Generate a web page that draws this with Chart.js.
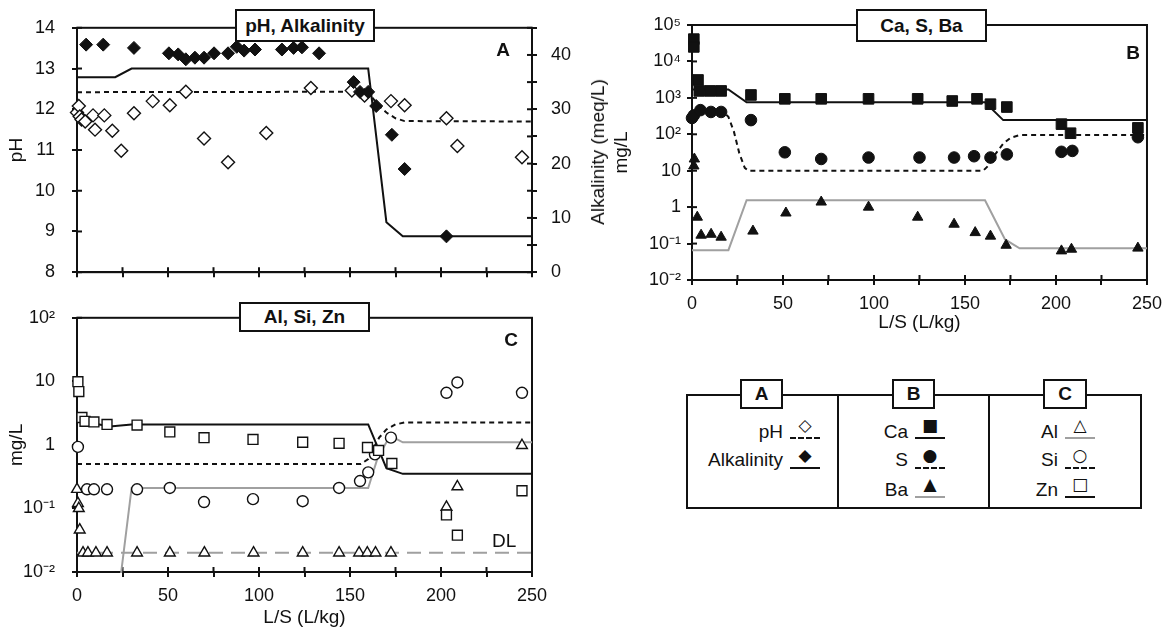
<!DOCTYPE html>
<html>
<head>
<meta charset="utf-8">
<script src="https://cdn.jsdelivr.net/npm/chart.js@4.4.1/dist/chart.umd.min.js"></script>
<style>
body { margin: 0; background: #fff; }
#page { position: relative; width: 1170px; height: 630px; overflow: hidden; font-family: "Liberation Sans", Arial, sans-serif; color: #111; }
canvas { position: absolute; }
.tbox { position: absolute; box-sizing: border-box; border: 2px solid #111; background: #fff; font-weight: bold; font-size: 19px; text-align: center; }
.lbl { position: absolute; font-size: 19px; line-height: 22px; white-space: nowrap; }
.letter { position: absolute; font-size: 19px; font-weight: bold; transform: translate(-50%, -50%); }
.txt { position: absolute; font-size: 19px; line-height: 22px; text-align: right; white-space: nowrap; }
.sym { position: absolute; width: 30px; height: 20px; }
.sym .mk { position: absolute; left: 0; right: 0; top: -2px; text-align: center; font: 17px/16px "DejaVu Sans", sans-serif; }
.sym .ln { position: absolute; left: 0; right: 0; bottom: 0; border-bottom: 2px solid #111; }
.sym .ln.dash { border-bottom-style: dashed; }
.sym .ln.grey { border-color: #a0a0a0; }
.rule { position: absolute; background: #111; }
</style>
</head>
<body>
<div id="page">
  <canvas id="chartA" width="620" height="300" style="left:0;top:0;width:620px;height:300px"></canvas>
  <canvas id="chartC" width="620" height="340" style="left:0;top:290px;width:620px;height:340px"></canvas>
  <canvas id="chartB" width="565" height="335" style="left:605px;top:0;width:565px;height:335px"></canvas>

  <div class="lbl" style="left:598px;top:152px;transform:translate(-50%,-50%) rotate(-90deg)">Alkalinity (meq/L)</div>

  <div class="tbox" style="left:235px;top:9px;width:140px;height:33px;line-height:29px">pH, Alkalinity</div>
  <div class="tbox" style="left:856px;top:9px;width:131px;height:33px;line-height:29px">Ca, S, Ba</div>
  <div class="tbox" style="left:239px;top:302px;width:131px;height:30px;line-height:26px">Al, Si, Zn</div>

  <div class="letter" style="left:503px;top:50px">A</div>
  <div class="letter" style="left:1133px;top:53px">B</div>
  <div class="letter" style="left:511px;top:340px">C</div>
  <div class="lbl" style="left:492px;top:530px">DL</div>

  <!-- legend table -->
  <div style="position:absolute;left:686px;top:394px;width:456px;height:115px;box-sizing:border-box;border:2px solid #111"></div>
  <div class="rule" style="left:837px;top:394px;width:2px;height:115px"></div>
  <div class="rule" style="left:988px;top:394px;width:2px;height:115px"></div>
  <div class="tbox" style="left:740px;top:379px;width:43px;height:30px;line-height:26px">A</div>
  <div class="tbox" style="left:892px;top:379px;width:43px;height:30px;line-height:26px">B</div>
  <div class="tbox" style="left:1043px;top:379px;width:44px;height:30px;line-height:26px">C</div>

  <div class="txt" style="left:690px;width:93px;top:421px">pH</div>
  <div class="sym" style="left:790px;top:419px"><span class="mk">◇</span><div class="ln dash"></div></div>
  <div class="txt" style="left:690px;width:93px;top:449px">Alkalinity</div>
  <div class="sym" style="left:790px;top:449px"><span class="mk">◆</span><div class="ln"></div></div>

  <div class="txt" style="left:842px;width:66px;top:421px">Ca</div>
  <div class="sym" style="left:915px;top:419px"><span class="mk">■</span><div class="ln"></div></div>
  <div class="txt" style="left:842px;width:66px;top:449px">S</div>
  <div class="sym" style="left:915px;top:449px"><span class="mk">●</span><div class="ln dash"></div></div>
  <div class="txt" style="left:842px;width:66px;top:479px">Ba</div>
  <div class="sym" style="left:915px;top:478px"><span class="mk">▲</span><div class="ln grey"></div></div>

  <div class="txt" style="left:993px;width:65px;top:421px">Al</div>
  <div class="sym" style="left:1065px;top:419px"><span class="mk">△</span><div class="ln grey"></div></div>
  <div class="txt" style="left:993px;width:65px;top:449px">Si</div>
  <div class="sym" style="left:1065px;top:449px"><span class="mk">○</span><div class="ln dash"></div></div>
  <div class="txt" style="left:993px;width:65px;top:479px">Zn</div>
  <div class="sym" style="left:1065px;top:478px"><span class="mk">□</span><div class="ln"></div></div>
</div>

<script>
// ---- Panel A: pH and alkalinity vs L/S ----
const phLS  = [0, 1, 1.5, 2.5, 4.5, 8.8, 9.9, 15, 19.4, 24.3, 31.3, 41.6, 51, 59.8, 69.8, 83, 104, 128.5, 151, 158, 172.5, 180, 203, 209, 244.5];
const phVal = [11.92, 12.08, 11.82, 11.75, 11.7, 11.85, 11.5, 11.85, 11.47, 10.98, 11.9, 12.2, 12.1, 12.43, 11.28, 10.7, 11.42, 12.52, 12.46, 12.34, 12.2, 12.1, 11.78, 11.1, 10.82];
const alkLS  = [5, 14.4, 31.3, 50.5, 55.6, 59.8, 64.8, 69.8, 75.3, 83, 87.8, 91.8, 97.8, 112.6, 119, 123.6, 133, 152, 155.5, 160, 164.4, 173, 180, 203];
const alkVal = [41.9, 41.9, 41.3, 40.3, 40.1, 39.2, 39.5, 39.5, 40.3, 40.3, 41.5, 40.8, 41.0, 41.0, 41.3, 41.4, 40.3, 35.0, 33.2, 33.2, 30.6, 25.3, 19.0, 6.6];
const phFitLS  = [0, 157, 162, 166, 170, 175, 180, 250];
const phFitVal = [12.42, 12.43, 12.3, 12.08, 11.92, 11.78, 11.71, 11.7];
const alkFitLS  = [0, 21, 30, 160, 170, 179, 250];
const alkFitVal = [35.9, 35.9, 37.5, 37.5, 9.2, 6.6, 6.6];

// ---- Panel B: Ca, S, Ba (mg/L) ----
const caLS  = [1, 1, 3.3, 4, 10, 16, 32.4, 51, 71, 97, 124, 143, 156.6, 164, 173, 203, 208, 245];
const caVal = [41000, 25000, 3100, 1550, 1550, 1550, 1200, 940, 940, 940, 940, 820, 940, 670, 560, 190, 107, 150];
const sLS  = [0, 1, 4.6, 10.4, 16, 32.4, 51, 71, 97, 125, 144, 155, 164, 173, 203, 209, 245];
const sVal = [280, 330, 460, 410, 410, 245, 32, 21, 23, 23, 23, 25, 23, 28, 33, 35, 83];
const baLS  = [1, 1.3, 2.9, 5, 10.5, 16, 33.5, 51.6, 71, 97, 124, 144, 155.6, 164, 172.6, 203, 208.5, 245];
const baVal = [13.5, 21, 0.53, 0.17, 0.18, 0.15, 0.22, 0.69, 1.38, 1.0, 0.53, 0.34, 0.2, 0.16, 0.09, 0.063, 0.07, 0.075];
const caFitLS  = [0, 20, 30, 161, 171, 250];
const caFitVal = [1700, 1700, 760, 760, 245, 245];
const sFitLS  = [0, 17, 20, 23, 26, 29, 31, 160, 163, 167, 171, 175, 180, 250];
const sFitVal = [430, 430, 300, 120, 30, 12, 10, 10, 14, 30, 55, 80, 95, 95];
const baFitLS  = [0, 20, 30, 161, 172, 180, 250];
const baFitVal = [0.066, 0.066, 1.55, 1.55, 0.13, 0.074, 0.074];

// ---- Panel C: Al, Si, Zn (mg/L) ----
const alLS  = [0, 0.5, 1, 1.5, 3.3, 6, 10.4, 16.5, 33, 51, 70, 97, 124, 144, 155, 159.5, 164, 172.5, 203, 209, 244.5];
const alVal = [0.2, 0.12, 0.1, 0.046, 0.02, 0.02, 0.02, 0.02, 0.02, 0.02, 0.02, 0.02, 0.02, 0.02, 0.02, 0.02, 0.02, 0.02, 0.105, 0.22, 0.98];
const siLS  = [0.5, 5.5, 9.3, 16.5, 33, 51, 69.8, 96.7, 124, 144, 155.5, 160, 163.7, 172.5, 203, 209, 244.5];
const siVal = [0.93, 0.2, 0.2, 0.2, 0.2, 0.21, 0.126, 0.14, 0.13, 0.21, 0.27, 0.37, 0.71, 1.3, 6.6, 9.6, 6.6];
const znLS  = [0.5, 1, 2.7, 4.4, 9.3, 16.5, 33, 51, 69.8, 96.7, 124, 144, 159.6, 165.7, 173, 203, 209, 244.5];
const znVal = [9.9, 6.9, 2.7, 2.35, 2.3, 2.1, 2.05, 1.6, 1.3, 1.22, 1.1, 1.06, 0.91, 0.82, 0.51, 0.079, 0.038, 0.19];
const alFitLS  = [0, 23, 30, 160, 165, 172, 179, 250];
const alFitVal = [0.005, 0.005, 0.21, 0.21, 0.6, 1.4, 1.1, 1.1];
const siFitLS  = [0, 156, 160, 163, 166, 170, 175, 180, 250];
const siFitVal = [0.5, 0.5, 0.6, 0.9, 1.3, 1.75, 2.1, 2.25, 2.25];
const znFitLS  = [0, 5, 18, 30, 160, 170, 179, 250];
const znFitVal = [2.4, 2.3, 1.95, 2.1, 2.1, 0.43, 0.35, 0.35];
const dlLS  = [0, 250];
const dlVal = [0.02, 0.02];

// ---- tick labels ----
const bTickVals   = [0.01, 0.1, 1, 10, 100, 1000, 10000, 100000];
const bTickLabels = ['10⁻²', '10⁻¹', '1', '10', '10²', '10³', '10⁴', '10⁵'];
const cTickVals   = [0.01, 0.1, 1, 10, 100];
const cTickLabels = ['10⁻²', '10⁻¹', '1', '10', '10²'];

const INK = '#111';
const GREY = '#a0a0a0';
Chart.defaults.font.family = '"Liberation Sans", Arial, sans-serif';
Chart.defaults.color = INK;

function xy(xs, ys) {
    return xs.map((x, i) => ({ x: x, y: ys[i] }));
}

function marks(xs, ys, style, filled, r, axis) {
    return {
        data: xy(xs, ys),
        yAxisID: axis || 'y',
        pointStyle: style,
        pointRadius: r,
        backgroundColor: filled ? INK : '#fff',
        borderColor: INK,
        borderWidth: filled ? 1 : 1.4,
        clip: false
    };
}

function curve(xs, ys, color, dash, axis) {
    return {
        data: xy(xs, ys),
        yAxisID: axis || 'y',
        showLine: true,
        pointRadius: 0,
        borderColor: color,
        borderWidth: 2,
        borderDash: dash || [],
        clip: 1
    };
}

// L/S axis shared by all panels
function lsAxis(h, labels, title) {
    return {
        type: 'linear', min: 0, max: 250,
        ticks: {
            stepSize: 25, autoSkip: false, maxRotation: 0, padding: 8, font: { size: 18 },
            callback: v => (labels && v % 50 === 0) ? String(v) : ''
        },
        grid: { drawOnChartArea: false, color: INK, lineWidth: 2, tickLength: 5 },
        border: { color: INK, width: 2 },
        title: { display: !!title, text: title || '', font: { size: 19 }, padding: { top: 0, bottom: 0.6 } },
        afterFit: s => { s.height = h; }
    };
}

function logAxis(vals, labels, w, pad) {
    return {
        type: 'logarithmic', min: vals[0], max: vals[vals.length - 1],
        afterBuildTicks: s => { s.ticks = vals.map(v => ({ value: v })); },
        ticks: { autoSkip: false, padding: pad, font: { size: 18 }, callback: (v, i) => labels[i] },
        grid: { drawOnChartArea: false, color: INK, lineWidth: 2, tickLength: 5 },
        border: { color: INK, width: 2 },
        title: { display: true, text: 'mg/L', font: { size: 19 }, padding: { top: 5.6, bottom: 0 } },
        afterFit: s => { s.width = w; }
    };
}

// frame round the plot area and tick marks pointing inward
const framePlugin = {
    id: 'frame',
    beforeDatasetsDraw(chart) {
        const ctx = chart.ctx;
        const a = chart.chartArea;
        ctx.save();
        ctx.strokeStyle = INK;
        ctx.lineWidth = 2;
        Object.values(chart.scales).forEach(s => {
            s.ticks.forEach((t, i) => {
                const p = s.getPixelForTick(i);
                ctx.beginPath();
                if (s.isHorizontal()) { ctx.moveTo(p, a.bottom); ctx.lineTo(p, a.bottom - 5); }
                else if (s.position === 'left') { ctx.moveTo(a.left, p); ctx.lineTo(a.left + 5, p); }
                else { ctx.moveTo(a.right, p); ctx.lineTo(a.right - 5, p); }
                ctx.stroke();
            });
        });
        ctx.strokeRect(a.left, a.top, a.right - a.left, a.bottom - a.top);
        ctx.restore();
    }
};

const baseOptions = {
    responsive: false,
    animation: false,
    plugins: { legend: { display: false }, tooltip: { enabled: false } }
};

function initPanelA() {
    new Chart(document.getElementById('chartA'), {
        type: 'scatter',
        data: {
            datasets: [
                marks(alkLS, alkVal, 'rectRot', true, 6.5, 'y2'),
                marks(phLS, phVal, 'rectRot', false, 6.5),
                curve(alkFitLS, alkFitVal, INK, [], 'y2'),
                curve(phFitLS, phFitVal, INK, [5, 4])
            ]
        },
        options: Object.assign({}, baseOptions, {
            layout: { padding: { top: 25, left: 0, right: 0, bottom: 0 } },
            scales: {
                x: lsAxis(20, false),
                y: {
                    min: 8, max: 14,
                    ticks: { stepSize: 1, padding: 17, font: { size: 18 } },
                    grid: { drawOnChartArea: false, color: INK, lineWidth: 2, tickLength: 5 },
                    border: { color: INK, width: 2 },
                    title: { display: true, text: 'pH', font: { size: 19 }, padding: { top: 5.6, bottom: 0 } },
                    afterFit: s => { s.width = 77; }
                },
                y2: {
                    position: 'right', min: 0, max: 45,
                    ticks: { stepSize: 5, autoSkip: false, padding: 14, font: { size: 18 },
                             callback: v => v % 10 === 0 ? String(v) : '' },
                    grid: { drawOnChartArea: false, color: INK, lineWidth: 2, tickLength: 5 },
                    border: { color: INK, width: 2 },
                    afterFit: s => { s.width = 88; }
                }
            }
        }),
        plugins: [framePlugin]
    });
}

function initPanelB() {
    new Chart(document.getElementById('chartB'), {
        type: 'scatter',
        data: {
            datasets: [
                marks(caLS, caVal, 'rect', true, 7.5),
                marks(sLS, sVal, 'circle', true, 5.8),
                marks(baLS, baVal, 'triangle', true, 6),
                curve(caFitLS, caFitVal, INK, []),
                curve(sFitLS, sFitVal, INK, [5, 4]),
                curve(baFitLS, baFitVal, GREY, [])
            ]
        },
        options: Object.assign({}, baseOptions, {
            layout: { padding: { top: 25, left: 0, right: 23, bottom: 0 } },
            scales: {
                x: lsAxis(55, true, 'L/S (L/kg)'),
                y: logAxis(bTickVals, bTickLabels, 87, 6)
            }
        }),
        plugins: [framePlugin]
    });
}

function initPanelC() {
    new Chart(document.getElementById('chartC'), {
        type: 'scatter',
        data: {
            datasets: [
                marks(znLS, znVal, 'rect', false, 7),
                marks(siLS, siVal, 'circle', false, 5.5),
                marks(alLS, alVal, 'triangle', false, 6.2),
                curve(znFitLS, znFitVal, INK, []),
                curve(siFitLS, siFitVal, INK, [5, 4]),
                curve(alFitLS, alFitVal, GREY, []),
                curve(dlLS, dlVal, GREY, [14, 8])
            ]
        },
        options: Object.assign({}, baseOptions, {
            layout: { padding: { top: 27, left: 0, right: 88, bottom: 0 } },
            scales: {
                x: lsAxis(58, true, 'L/S (L/kg)'),
                y: logAxis(cTickVals, cTickLabels, 77, 17)
            }
        }),
        plugins: [framePlugin]
    });
}

document.addEventListener('DOMContentLoaded', function() {
    initPanelA();
    initPanelB();
    initPanelC();
});
</script>
</body>
</html>
